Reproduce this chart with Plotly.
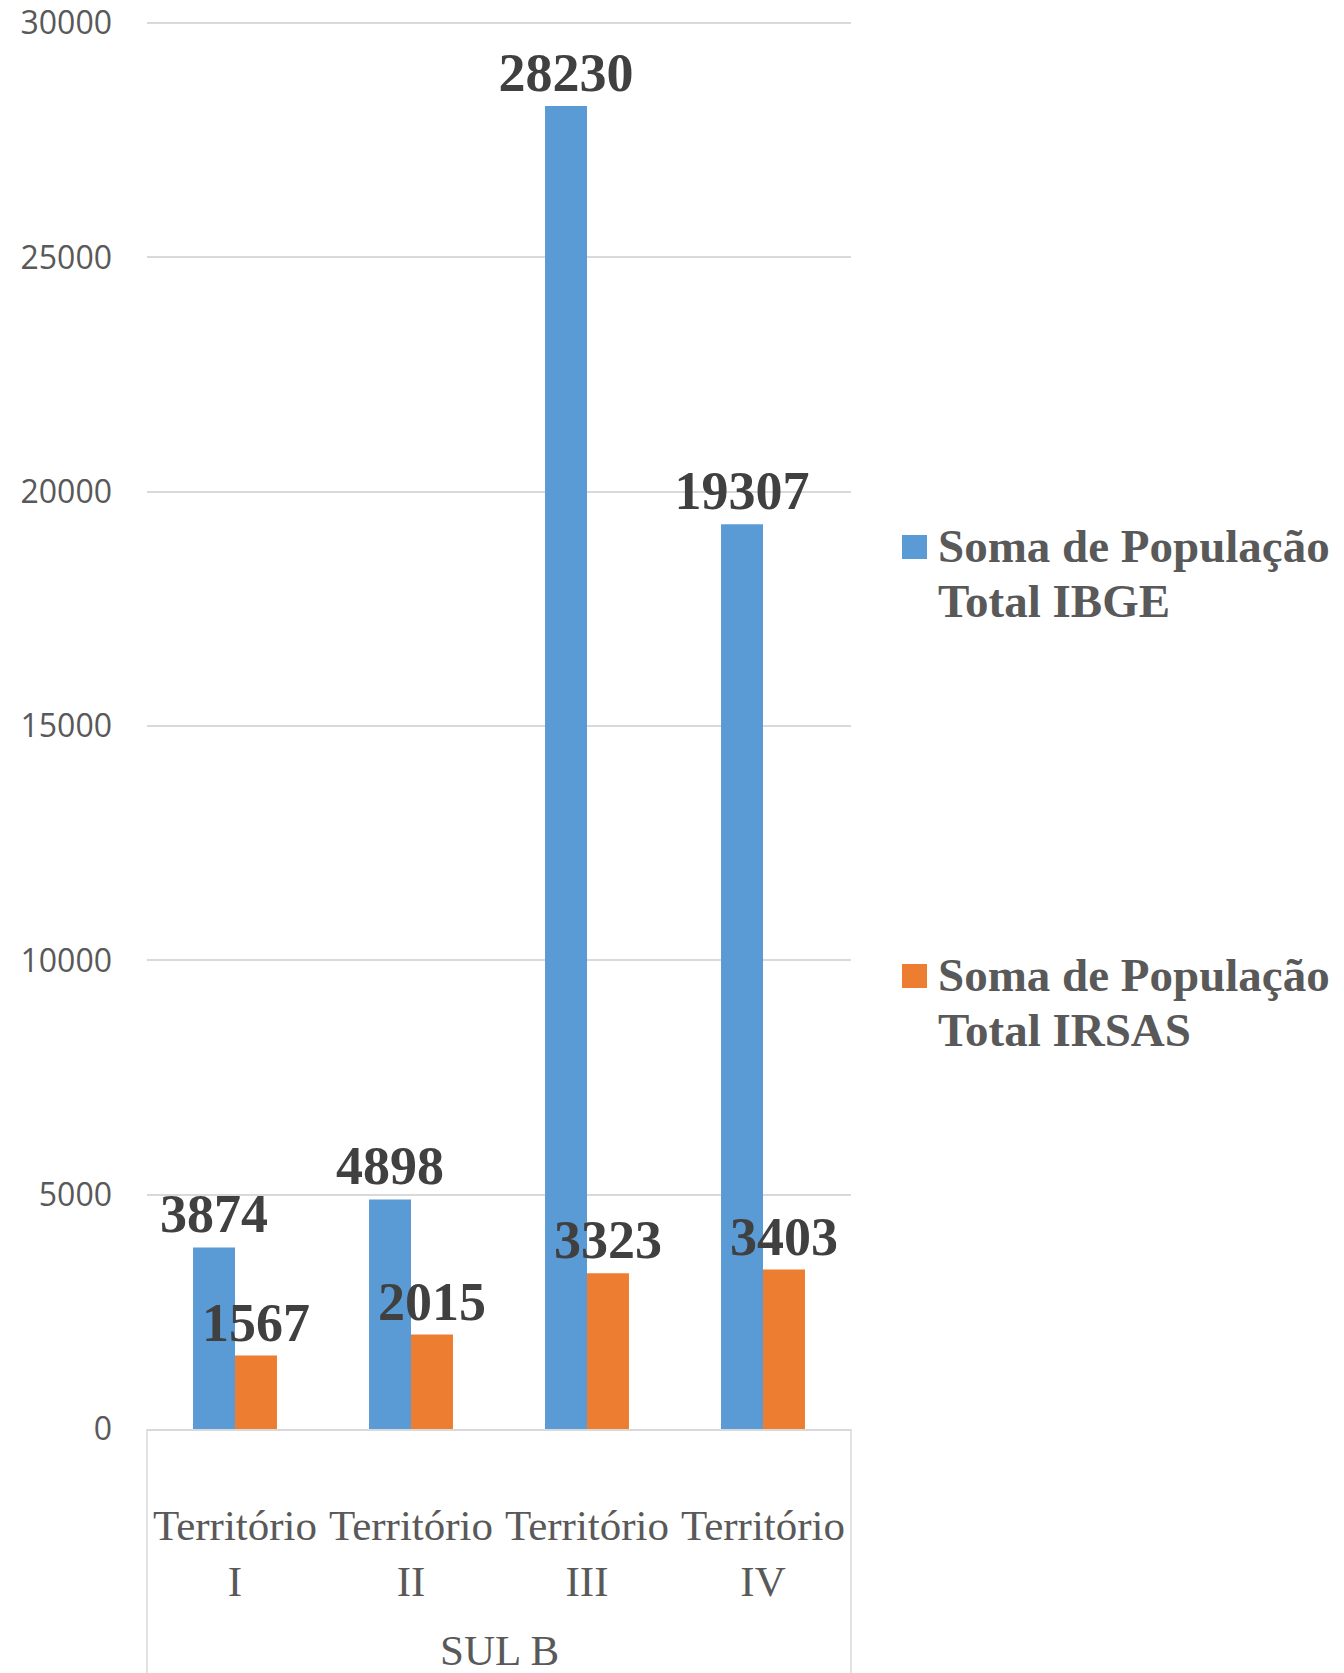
import plotly.graph_objects as go

# ---- data ----
categories = ["Território<br>I", "Território<br>II", "Território<br>III", "Território<br>IV"]
group_label = "SUL B"
series_names = ["Soma de População<br>Total IBGE", "Soma de População<br>Total IRSAS"]
ibge_values = [3874, 4898, 28230, 19307]
irsas_values = [1567, 2015, 3323, 3403]
y_ticks = [0, 5000, 10000, 15000, 20000, 25000, 30000]

# ---- layout constants (page body has an 8px margin) ----
OFF = 8
W, H = 1344, 1673
EXTRA = 2  # px of headroom so the top gridline is drawn
L, T = 147 - OFF, 23 - OFF - EXTRA
R = W - (851 - OFF)
B = H - (1429 - OFF)
PW, PH = W - L - R, H - T - B
Y_MAX = 30000 * PH / (PH - EXTRA)
colors = ["#5B9BD5", "#ED7D31"]
serif = "Liberation Serif"


def px_x(px):
    return (px - OFF - L) / PW


def px_y(py):
    return (H - B - (py - OFF)) / PH


fig = go.Figure()
for name, vals, col in zip(series_names, [ibge_values, irsas_values], colors):
    fig.add_trace(go.Bar(
        x=categories, y=vals, name=name.replace("<br>", " "),
        marker=dict(color=col, line=dict(width=0)),
        text=[str(v) for v in vals], textposition="outside",
        constraintext="none", cliponaxis=False,
        textfont=dict(family=serif, size=54, color="#404040", weight="bold"),
        showlegend=False,
    ))

shapes = []
annotations = []
# vertical divider lines of the category axis box
for xp in (0, 1):
    shapes.append(dict(type="line", xref="paper", yref="paper", x0=xp, x1=xp,
                       y0=0, y1=-0.25, line=dict(color="#d9d9d9", width=1.5)))

# group label
annotations.append(dict(text=group_label, xref="paper", yref="paper", x=0.5,
                        y=px_y(1650), xanchor="center", yanchor="middle",
                        showarrow=False,
                        font=dict(family=serif, size=43, color="#595959")))

# manual legend
legend_tops = [535, 964]
for name, col, top in zip(series_names, colors, legend_tops):
    shapes.append(dict(type="rect", xref="paper", yref="paper",
                       x0=px_x(902), x1=px_x(927), y0=px_y(top), y1=px_y(top + 24),
                       fillcolor=col, line=dict(width=0)))
    for i, line in enumerate(name.split("<br>")):
        baseline = top + 27 + i * 55
        annotations.append(dict(text=line, xref="paper", yref="paper",
                                x=px_x(936), y=px_y(baseline - 16),
                                xanchor="left", yanchor="middle", showarrow=False,
                                font=dict(family=serif, size=47, color="#595959",
                                          weight="bold")))

fig.update_layout(
    template="none",
    width=W, height=H,
    margin=dict(l=L, r=R, t=T, b=B, pad=0),
    paper_bgcolor="white", plot_bgcolor="white",
    barmode="group", bargap=0.523, bargroupgap=0,
    shapes=shapes, annotations=annotations,
    showlegend=False,
)
fig.update_xaxes(
    type="category", tickangle=0, showgrid=False,
    showline=True, linecolor="#d9d9d9", linewidth=1.5,
    ticks="", ticklabelstandoff=58,
    tickfont=dict(family=serif, size=43, color="#595959"),
    automargin=False,
)
fig.update_yaxes(
    range=[0, Y_MAX], tickvals=y_ticks, tickformat="d",
    showgrid=True, gridcolor="#d9d9d9", gridwidth=1.5,
    zeroline=False, showline=False, ticks="",
    ticklabelstandoff=34, ticklabeloverflow="allow",
    tickfont=dict(family="Open Sans", size=32, color="#595959"),
    automargin=False,
)

fig.write_html("out.html")
